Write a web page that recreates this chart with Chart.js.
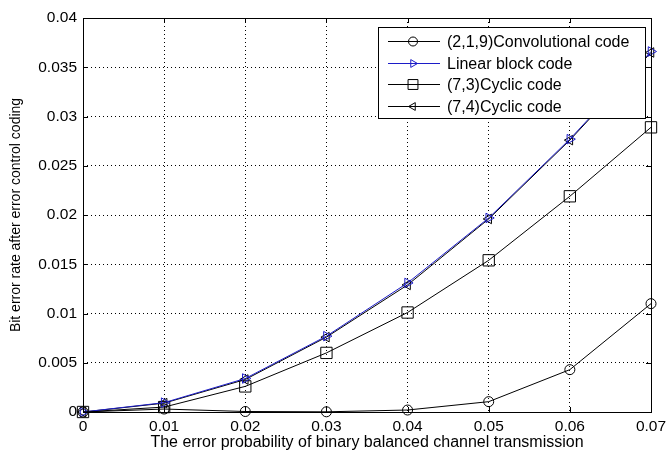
<!DOCTYPE html>
<html>
<head>
<meta charset="utf-8">
<script src="https://cdn.jsdelivr.net/npm/chart.js@4"></script>
<style>
  html, body { margin: 0; padding: 0; background: #fff; }
  #wrap { width: 666px; height: 454px; }
</style>
</head>
<body>
<div id="wrap"><canvas id="chart" width="666" height="454"></canvas></div>
<script>
// error probability of the channel
const errorProb = [0, 0.01, 0.02, 0.03, 0.04, 0.05, 0.06, 0.07];

// bit error rate after coding
const convCode = [0, 0.0003, 0.00005, 0.00002, 0.0002, 0.00105, 0.0043, 0.011];
const linearBlock = [0, 0.00095, 0.0034, 0.0077, 0.0131, 0.0197, 0.0277, 0.0366];
const cyclic73 = [0, 0.0005, 0.0026, 0.006, 0.0101, 0.0154, 0.0219, 0.0289];
const cyclic74 = [0, 0.0009, 0.0033, 0.0076, 0.0129, 0.0196, 0.0276, 0.0365];

const seriesNames = ['(2,1,9)Convolutional code', 'Linear block code', '(7,3)Cyclic code', '(7,4)Cyclic code'];

const xTitle = 'The error probability of binary balanced channel transmission';
const yTitle = 'Bit error rate after error control coding';

const FONT = 'Arial, "Liberation Sans", sans-serif';

function toPoints(values) {
    return errorProb.map((x, i) => ({ x: x, y: values[i] }));
}

function makeSet(label, values, color, style, rotation, radius) {
    return {
        label: label,
        data: toPoints(values),
        borderColor: color,
        backgroundColor: 'rgba(0,0,0,0)',
        borderWidth: 1,
        pointStyle: style,
        pointRotation: rotation,
        pointRadius: radius,
        pointBorderColor: color,
        pointBorderWidth: 1,
        pointBackgroundColor: 'rgba(0,0,0,0)',
        tension: 0,
        clip: false
    };
}

// MATLAB style box, inward ticks and the legend inside the axes
const boxPlugin = {
    id: 'boxPlugin',
    afterDraw(chart) {
        const ctx = chart.ctx;
        const a = chart.chartArea;
        const xs = chart.scales.x;
        const ys = chart.scales.y;
        ctx.save();
        ctx.strokeStyle = '#000';
        ctx.lineWidth = 1;
        ctx.strokeRect(Math.round(a.left) + 0.5, Math.round(a.top) + 0.5,
            Math.round(a.right - a.left), Math.round(a.bottom - a.top));

        // inward ticks
        ctx.beginPath();
        xs.ticks.forEach(t => {
            const px = Math.round(xs.getPixelForValue(t.value)) + 0.5;
            ctx.moveTo(px, a.bottom); ctx.lineTo(px, a.bottom - 5);
            ctx.moveTo(px, a.top); ctx.lineTo(px, a.top + 5);
        });
        ys.ticks.forEach(t => {
            const py = Math.round(ys.getPixelForValue(t.value)) + 0.5;
            ctx.moveTo(a.left, py); ctx.lineTo(a.left + 5, py);
            ctx.moveTo(a.right, py); ctx.lineTo(a.right - 5, py);
        });
        ctx.stroke();

        // legend
        const lx = 378, ly = 27, lw = 267, lh = 91;
        ctx.fillStyle = '#fff';
        ctx.fillRect(lx, ly, lw, lh);
        ctx.strokeRect(lx + 0.5, ly + 0.5, lw, lh);
        ctx.font = '16px ' + FONT;
        ctx.textBaseline = 'middle';
        chart.data.datasets.forEach((ds, i) => {
            const y = Math.round(41 + i * 21.7) + 0.5;
            ctx.strokeStyle = ds.borderColor;
            ctx.beginPath();
            ctx.moveTo(388, y);
            ctx.lineTo(440, y);
            ctx.stroke();
            ctx.fillStyle = 'rgba(0,0,0,0)';
            Chart.helpers.drawPoint(ctx, {
                pointStyle: ds.pointStyle,
                rotation: ds.pointRotation,
                radius: ds.pointStyle === 'rect' ? 7 : 4.5,
                borderWidth: 1
            }, 413, y);
            ctx.fillStyle = '#000';
            ctx.fillText(ds.label, 447, y + 1);
        });
        ctx.restore();
    }
};

new Chart(document.getElementById('chart'), {
    type: 'line',
    data: {
        datasets: [
            makeSet(seriesNames[0], convCode, '#000', 'circle', 0, 5),
            makeSet(seriesNames[1], linearBlock, '#1c1cc8', 'triangle', 90, 5.5),
            makeSet(seriesNames[2], cyclic73, '#000', 'rect', 0, 8),
            makeSet(seriesNames[3], cyclic74, '#000', 'triangle', -90, 5.5)
        ]
    },
    options: {
        responsive: false,
        animation: false,
        layout: { padding: { top: 18, right: 15, left: 0, bottom: 0 } },
        plugins: {
            legend: { display: false },
            tooltip: { enabled: false }
        },
        scales: {
            x: {
                type: 'linear',
                min: 0,
                max: 0.07,
                afterFit: s => { s.height = 42; s.paddingLeft = 0; s.paddingRight = 0; },
                afterBuildTicks: s => { s.ticks = errorProb.map(v => ({ value: v })); },
                ticks: {
                    color: '#000',
                    font: { family: FONT, size: 15.5 },
                    padding: 5,
                    callback: v => String(+v.toFixed(3))
                },
                grid: {
                    color: '#000',
                    lineWidth: 1,
                    drawTicks: false
                },
                border: { display: false, dash: [1, 3] },
                title: {
                    display: true,
                    text: xTitle,
                    color: '#000',
                    font: { family: FONT, size: 16 },
                    padding: { top: 0, bottom: 2 }
                }
            },
            y: {
                type: 'linear',
                min: 0,
                max: 0.04,
                afterFit: s => { s.width = 83; s.paddingTop = 0; s.paddingBottom = 0; },
                ticks: {
                    stepSize: 0.005,
                    color: '#000',
                    font: { family: FONT, size: 15.5 },
                    padding: 6,
                    callback: v => String(+v.toFixed(3))
                },
                grid: {
                    color: '#000',
                    lineWidth: 1,
                    drawTicks: false
                },
                border: { display: false, dash: [1, 3] },
                title: {
                    display: true,
                    text: yTitle,
                    color: '#000',
                    font: { family: FONT, size: 14 },
                    padding: { top: 8, bottom: 0 }
                }
            }
        }
    },
    plugins: [boxPlugin]
});
</script>
</body>
</html>
